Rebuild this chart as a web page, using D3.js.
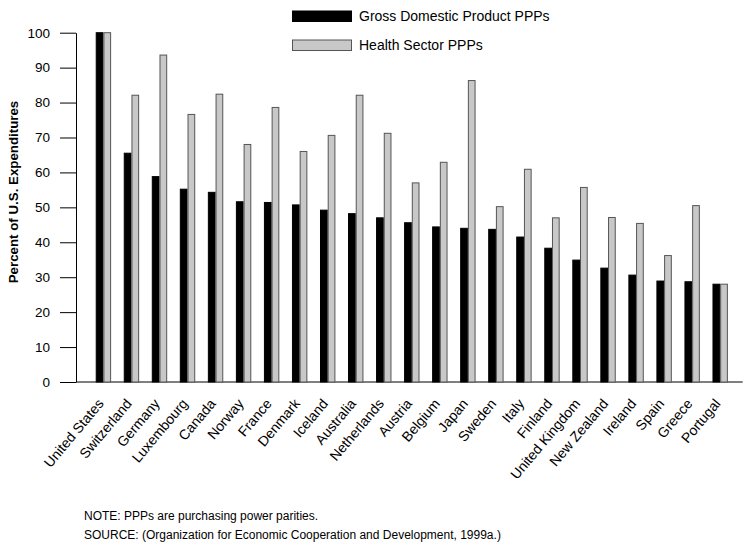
<!DOCTYPE html>
<html>
<head>
<meta charset="utf-8">
<script src="https://cdn.jsdelivr.net/npm/d3@7"></script>
<style>
  html, body { margin: 0; padding: 0; background: #fff; }
  svg { display: block; font-family: "Liberation Sans", Arial, sans-serif; }
</style>
</head>
<body>
<svg id="chart" width="754" height="547"></svg>
<script>
const countries = ["United States","Switzerland","Germany","Luxembourg","Canada","Norway","France","Denmark","Iceland","Australia","Netherlands","Austria","Belgium","Japan","Sweden","Italy","Finland","United Kingdom","New Zealand","Ireland","Spain","Greece","Portugal"];
const gdpPPP    = [100, 65.5, 58.8, 55.2, 54.3, 51.6, 51.4, 50.7, 49.2, 48.2, 47.0, 45.6, 44.4, 44.0, 43.7, 41.5, 38.3, 34.9, 32.6, 30.6, 28.9, 28.7, 28.0];
const healthPPP = [100, 82.1, 93.6, 76.6, 82.4, 68.0, 78.6, 66.0, 70.6, 82.1, 71.2, 57.0, 62.9, 86.3, 50.2, 60.9, 47.0, 55.7, 47.1, 45.4, 36.2, 50.5, 28.0];
const seriesNames = ["Gross Domestic Product PPPs", "Health Sector PPPs"];
const yTicks = [0, 10, 20, 30, 40, 50, 60, 70, 80, 90, 100];
const yTitle = "Percent of U.S. Expenditures";
const notes = ["NOTE: PPPs are purchasing power parities.", "SOURCE: (Organization for Economic Cooperation and Development, 1999a.)"];

const svg = d3.select("#chart");
const fills = ["#000000", "#c8c8c8"];
const strokes = ["#000000", "#555555"];

const y = d3.scaleLinear().domain([0, 100]).range([382, 32.7]);
const x = d3.scaleBand().domain(countries).range([89.4, 734.2]).padding(0);
const inner = d3.scaleBand().domain([0, 1]).range([0, 15.4]);
const axisX = 76;

// Y axis
const yAxis = d3.axisLeft(y).tickValues(yTicks).tickSize(16).tickSizeOuter(0).tickPadding(10);
const gy = svg.append("g").attr("transform", `translate(${axisX},0)`).call(yAxis);
gy.selectAll("text").attr("font-size", 13.5).attr("fill", "#000").attr("font-family", "Liberation Sans, Arial, sans-serif");
gy.selectAll("line, path").attr("stroke", "#000").attr("stroke-width", 1);

// X baseline
svg.append("line").attr("x1", axisX).attr("x2", 742.7).attr("y1", y(0)).attr("y2", y(0))
  .attr("stroke", "#000").attr("stroke-width", 1);

// Bars
const data = countries.map((c, i) => ({ c, v: [gdpPPP[i], healthPPP[i]] }));
const groups = svg.append("g").selectAll("g").data(data).join("g")
  .attr("transform", d => `translate(${x(d.c) + x.bandwidth() / 2 - 7.7},0)`);
groups.selectAll("rect").data(d => d.v.map((v, k) => ({ v, k }))).join("rect")
  .attr("x", d => inner(d.k) + 0.5)
  .attr("y", d => y(d.v))
  .attr("width", inner.bandwidth() - 1)
  .attr("height", d => y(0) - y(d.v))
  .attr("fill", d => fills[d.k])
  .attr("stroke", d => strokes[d.k])
  .attr("stroke-width", 1);

// Country labels
svg.append("g").selectAll("text").data(countries).join("text")
  .attr("transform", d => `translate(${x(d) + x.bandwidth() / 2 + 1},${y(0) + 22}) rotate(-50)`)
  .attr("text-anchor", "end")
  .attr("font-size", 14)
  .attr("fill", "#000")
  .text(d => d);

// Y title
svg.append("text")
  .attr("transform", `translate(18,192) rotate(-90)`)
  .attr("text-anchor", "middle")
  .attr("font-size", 13.3)
  .attr("font-weight", "bold")
  .attr("fill", "#000")
  .text(yTitle);

// Legend
const legend = svg.append("g");
const legY = [11, 40];
seriesNames.forEach((name, k) => {
  legend.append("rect").attr("x", 292.5).attr("y", legY[k]).attr("width", 59).attr("height", 10.5)
    .attr("fill", fills[k]).attr("stroke", strokes[k]).attr("stroke-width", 1);
  legend.append("text").attr("x", 359).attr("y", legY[k] + 10)
    .attr("font-size", 14).attr("fill", "#000").text(name);
});

// Notes
notes.forEach((t, i) => {
  svg.append("text").attr("x", 84).attr("y", 520 + i * 19)
    .attr("font-size", 12).attr("fill", "#000").text(t);
});
</script>
</body>
</html>
